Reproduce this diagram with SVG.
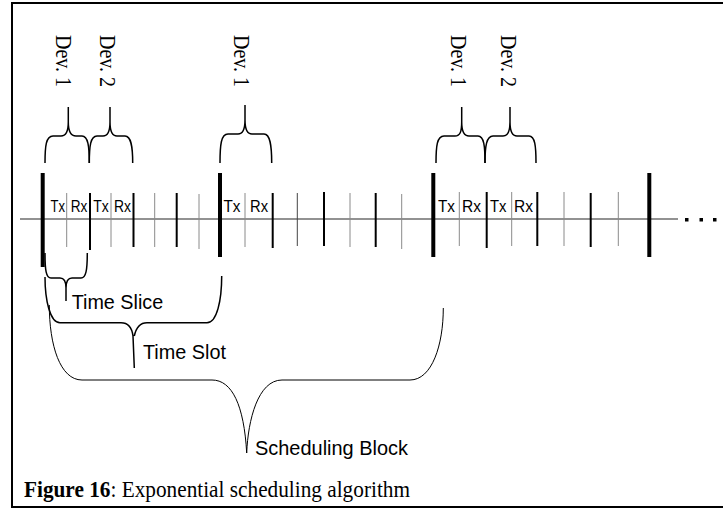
<svg xmlns="http://www.w3.org/2000/svg" width="723" height="518" viewBox="0 0 723 518">
  <style>
    .frame { fill: none; stroke: #000; stroke-width: 2; }
    .axis { stroke: #6e6e6e; stroke-width: 1.3; }
    .bar { stroke: #000; stroke-width: 4; }
    .tick { stroke: #000; stroke-width: 2; }
    .tick-thin { stroke: #444; stroke-width: 1; }
    .tick-grey { stroke: #8a8a8a; stroke-width: 1; }
    .brace { fill: none; stroke: #000; stroke-width: 1.5; stroke-linejoin: round; }
    .brace-thin { fill: none; stroke: #000; stroke-width: 1; }
    .lbl { font-family: "Liberation Sans", Arial, sans-serif; fill: #000; }
    .txrx { font-family: "Liberation Sans", Arial, sans-serif; font-size: 16px; fill: #000; }
    .dev { font-family: "Liberation Serif", "Times New Roman", serif; font-size: 24px; fill: #000; }
    .cap { font-family: "Liberation Serif", "Times New Roman", serif; font-size: 22.5px; fill: #000; }
  </style>

  <!-- page frame (open on the right) -->
  <path class="frame" d="M723,3 H12 V507 H723"/>

  <!-- time axis with slot boundaries and slice ticks -->
  <g id="axis">
    <line class="axis" x1="20" y1="219" x2="678" y2="219"/>
    <!-- continuation dots -->
    <rect x="685" y="218" width="3.5" height="3.5" fill="#000"/>
    <rect x="699.5" y="218" width="3.5" height="3.5" fill="#000"/>
    <rect x="713" y="218" width="3.5" height="3.5" fill="#000"/>
  </g>

  <g id="slot-1">
    <line class="bar" x1="42.7" y1="173" x2="42.7" y2="267"/>
    <line class="tick-grey" x1="66.7" y1="193" x2="66.7" y2="247"/>
    <line class="tick" x1="90" y1="193" x2="90" y2="250"/>
    <line class="tick-grey" x1="111" y1="193" x2="111" y2="247"/>
    <line class="tick" x1="133.5" y1="193" x2="133.5" y2="247"/>
    <line class="tick-grey" x1="154.7" y1="193" x2="154.7" y2="247"/>
    <line class="tick" x1="176.7" y1="193" x2="176.7" y2="247"/>
    <line class="tick-grey" x1="199" y1="194" x2="199" y2="249"/>
    <text class="txrx" x="50.5" y="211.5" textLength="14.5" lengthAdjust="spacingAndGlyphs">Tx</text>
    <text class="txrx" x="70.7" y="211.5" textLength="16.6" lengthAdjust="spacingAndGlyphs">Rx</text>
    <text class="txrx" x="93.3" y="211.5" textLength="15.5" lengthAdjust="spacingAndGlyphs">Tx</text>
    <text class="txrx" x="114" y="211.5" textLength="17" lengthAdjust="spacingAndGlyphs">Rx</text>
  </g>

  <g id="slot-2">
    <line class="bar" x1="220" y1="173" x2="220" y2="257"/>
    <line class="tick-grey" x1="245" y1="193" x2="245" y2="247"/>
    <line class="tick" x1="272.7" y1="193" x2="272.7" y2="248"/>
    <line class="tick-thin" x1="297.3" y1="193" x2="297.3" y2="246"/>
    <line class="tick" x1="324" y1="192" x2="324" y2="246"/>
    <line class="tick-grey" x1="350" y1="193" x2="350" y2="247"/>
    <line class="tick" x1="375.7" y1="193" x2="375.7" y2="247"/>
    <line class="tick-grey" x1="401.7" y1="194" x2="401.7" y2="249"/>
    <text class="txrx" x="223.5" y="211.5" textLength="17" lengthAdjust="spacingAndGlyphs">Tx</text>
    <text class="txrx" x="250" y="211.5" textLength="18" lengthAdjust="spacingAndGlyphs">Rx</text>
  </g>

  <g id="slot-3">
    <line class="bar" x1="433.3" y1="173" x2="433.3" y2="257"/>
    <line class="tick-grey" x1="459.3" y1="192" x2="459.3" y2="246"/>
    <line class="tick" x1="486.7" y1="192" x2="486.7" y2="248"/>
    <line class="tick-grey" x1="511.7" y1="192" x2="511.7" y2="246"/>
    <line class="tick" x1="537.3" y1="192" x2="537.3" y2="246"/>
    <line class="tick-grey" x1="564" y1="192" x2="564" y2="246"/>
    <line class="tick" x1="590.7" y1="193" x2="590.7" y2="247"/>
    <line class="tick-grey" x1="618.3" y1="192" x2="618.3" y2="246"/>
    <text class="txrx" x="438" y="211.5" textLength="17" lengthAdjust="spacingAndGlyphs">Tx</text>
    <text class="txrx" x="462" y="211.5" textLength="19" lengthAdjust="spacingAndGlyphs">Rx</text>
    <text class="txrx" x="490" y="211.5" textLength="16.5" lengthAdjust="spacingAndGlyphs">Tx</text>
    <text class="txrx" x="514" y="211.5" textLength="19" lengthAdjust="spacingAndGlyphs">Rx</text>
  </g>

  <g id="slot-4">
    <line class="bar" x1="649.3" y1="173" x2="649.3" y2="257"/>
  </g>

  <!-- device braces above the slices -->
  <g id="dev-braces">
    <path class="brace" d="M45,163 C45,146 46,136 53,136 L61,136 C66,136 68.3,132 68.3,122 L68.3,107 M68.3,122 C68.3,132 71,136 76,136 L82,136 C88,136 89.3,146 89.3,163"/>
    <path class="brace" d="M89.3,163 C89.3,146 90.5,136 97,136 L103,136 C108,136 110,132 110,122 L110,107 M110,122 C110,132 112,136 117,136 L125,136 C131,136 132.7,146 132.7,163"/>
    <path class="brace" d="M220,163 C220,145 221,134 228,134 L238,134 C243,134 245,130 245,120 L245,105 M245,120 C245,130 247,134 252,134 L264,134 C270,134 271.7,145 271.7,163"/>
    <path class="brace" d="M436,163 C436,146 437,136 444,136 L455,136 C460,136 461.7,132 461.7,122 L461.7,107 M461.7,122 C461.7,132 464,136 469,136 L478,136 C484,136 485,146 485,163"/>
    <path class="brace" d="M485,163 C485,146 486.5,136 493,136 L503,136 C508,136 510,132 510,122 L510,107 M510,122 C510,132 512,136 517,136 L529,136 C535,136 536,146 536,163"/>
  </g>

  <g id="dev-labels">
    <text class="dev" transform="translate(55.5,35) rotate(90)" textLength="52" lengthAdjust="spacingAndGlyphs">Dev. 1</text>
    <text class="dev" transform="translate(99.5,35) rotate(90)" textLength="52" lengthAdjust="spacingAndGlyphs">Dev. 2</text>
    <text class="dev" transform="translate(233.5,35) rotate(90)" textLength="52" lengthAdjust="spacingAndGlyphs">Dev. 1</text>
    <text class="dev" transform="translate(450.7,35) rotate(90)" textLength="52" lengthAdjust="spacingAndGlyphs">Dev. 1</text>
    <text class="dev" transform="translate(501,35) rotate(90)" textLength="52" lengthAdjust="spacingAndGlyphs">Dev. 2</text>
  </g>

  <!-- span braces below the axis -->
  <g id="time-slice">
    <path class="brace" d="M45,253 C45,270 46,278 51,278 L60,278 C64,278 66,282 66,288 L66,301 M66,288 C66,282 68,278 72,278 L81,278 C86,278 87.3,270 87.3,253"/>
    <text class="lbl" x="71.7" y="309" font-size="21" textLength="91.5" lengthAdjust="spacingAndGlyphs">Time Slice</text>
  </g>

  <g id="time-slot">
    <path class="brace" d="M45,277 C45,300 50,322.7 60,322.7 L121,322.7 C128,322.7 132,328 133,336 L134.3,368 M134.3,336 C136,328 140,322.7 147,322.7 L207,322.7 C217,322.7 221.7,300 221.7,276"/>
    <text class="lbl" x="143" y="359.3" font-size="21" textLength="83" lengthAdjust="spacingAndGlyphs">Time Slot</text>
  </g>

  <g id="scheduling-block">
    <path class="brace-thin" d="M49.3,305 C49.3,345 60,380 82,380 L212,380 C232,380 244,405 246.7,453 M246.7,453 C248,420 258,380 282,380 L410,380 C432,380 443.3,345 443.3,308"/>
    <text class="lbl" x="255" y="455" font-size="21" textLength="153" lengthAdjust="spacingAndGlyphs">Scheduling Block</text>
  </g>

  <g id="caption">
    <text class="cap" x="24" y="497" textLength="386" lengthAdjust="spacingAndGlyphs"><tspan font-weight="bold">Figure 16</tspan>: Exponential scheduling algorithm</text>
  </g>
</svg>
